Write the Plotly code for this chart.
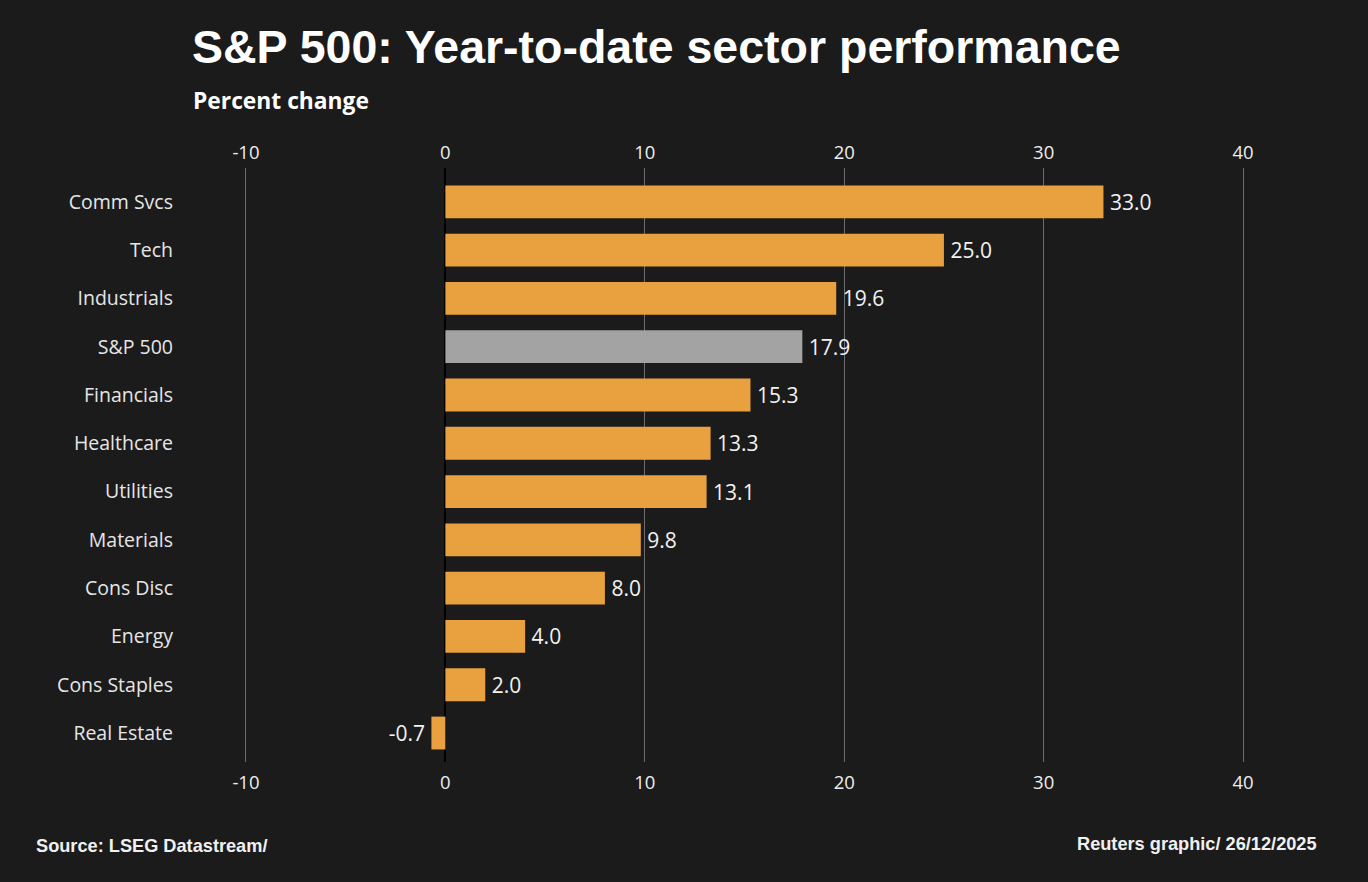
import plotly.graph_objects as go

sectors = ["Comm Svcs", "Tech", "Industrials", "S&P 500", "Financials", "Healthcare",
           "Utilities", "Materials", "Cons Disc", "Energy", "Cons Staples", "Real Estate"]
values = [33.0, 25.0, 19.6, 17.9, 15.3, 13.3, 13.1, 9.8, 8.0, 4.0, 2.0, -0.7]
tick_vals = [-10, 0, 10, 20, 30, 40]
tick_text = [str(t) for t in tick_vals]

ORANGE = "#e9a03f"
GREY = "#a3a3a3"
BG = "#1b1b1b"
colors = [GREY if s == "S&P 500" else ORANGE for s in sectors]
labels = [(f"\u2009{v:.1f}" if v >= 0 else f"{v:.1f}\u2009") for v in values]

fig = go.Figure()
fig.add_trace(go.Bar(
    x=values, y=sectors, orientation="h",
    marker=dict(color=colors, line=dict(width=0)),
    text=labels, textposition="outside",
    textfont=dict(color="#f2f2f2", size=21, family="Open Sans, Liberation Sans"),
    cliponaxis=False, hoverinfo="skip", showlegend=False,
))
# invisible twin trace so the top axis renders
fig.add_trace(go.Scatter(
    x=values, y=sectors, xaxis="x2", mode="markers",
    marker=dict(opacity=0), hoverinfo="skip", showlegend=False,
))

axis_font = dict(color="#eeeeee", size=18.5, family="Open Sans, Liberation Sans")
fig.update_layout(
    width=1368, height=882,
    paper_bgcolor=BG, plot_bgcolor=BG,
    margin=dict(l=226, r=105, t=168, b=120),
    bargap=0.32,
    xaxis=dict(range=[-11, 41], tickvals=tick_vals, ticktext=tick_text, showgrid=True,
               gridcolor="#6e6e6e", gridwidth=1,
               zeroline=True, zerolinecolor="#000000", zerolinewidth=2,
               tickfont=axis_font, ticks="outside", ticklen=4,
               tickcolor="rgba(0,0,0,0)", showline=False),
    xaxis2=dict(range=[-11, 41], tickvals=tick_vals, ticktext=tick_text,
                overlaying="x", side="top",
                matches="x", showgrid=False, zeroline=False,
                tickfont=axis_font, ticks="outside", ticklen=1,
                tickcolor="rgba(0,0,0,0)", showline=False),
    yaxis=dict(categoryorder="array", categoryarray=sectors,
               range=[11.6, -0.7], showgrid=False, zeroline=False,
               tickfont=dict(color="#e6e6e6", size=19.5, family="Open Sans, Liberation Sans"),
               ticklabelstandoff=52, ticks=""),
    font=dict(family="Liberation Sans, Arial", color="#ffffff"),
)

W, H = 1368, 882
pl, pr, pt, pb = 226, 105, 168, 120
pw, ph = W - pl - pr, H - pt - pb
def px(x): return (x - pl) / pw
def py(y): return (H - pb - y) / ph

fig.add_annotation(text="<b>S&P 500: Year-to-date sector performance</b>",
                   xref="paper", yref="paper", x=px(190), y=py(47),
                   xanchor="left", yanchor="middle", showarrow=False,
                   font=dict(size=46.5, color="#ffffff", family="Liberation Sans, Arial"))
fig.add_annotation(text="<b>Percent change</b>", xref="paper", yref="paper",
                   x=px(191), y=py(101), xanchor="left", yanchor="middle", showarrow=False,
                   font=dict(size=22.8, color="#ffffff", family="Open Sans, Liberation Sans"))
fig.add_annotation(text="<b>Source: LSEG Datastream/</b>", xref="paper", yref="paper",
                   x=px(34), y=py(846), xanchor="left", yanchor="middle", showarrow=False,
                   font=dict(size=18.2, color="#f0f0f0", family="Liberation Sans, Arial"))
fig.add_annotation(text="<b>Reuters graphic/ 26/12/2025</b>", xref="paper", yref="paper",
                   x=px(1319), y=py(844), xanchor="right", yanchor="middle", showarrow=False,
                   font=dict(size=18.2, color="#f0f0f0", family="Liberation Sans, Arial"))

fig.write_html("out.html", config={"displayModeBar": False},
               post_script="document.body.style.margin='0';"
                           "document.body.style.background='#1b1b1b';")
